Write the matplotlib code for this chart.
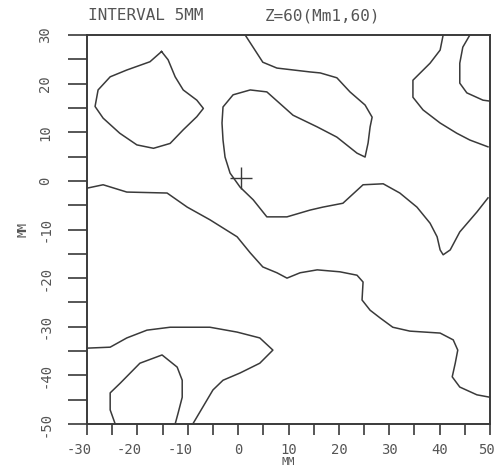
import matplotlib
matplotlib.use("Agg")
import matplotlib.pyplot as plt
import matplotlib.transforms as mtransforms
import numpy as np

# Contour lines (x, y in MM)
curve_a = [(-15.2, 26.6), (-17.5, 24.5), (-22.1, 22.8), (-25.4, 21.4), (-27.8, 18.7),
           (-28.4, 15.3), (-26.8, 12.9), (-23.5, 9.8), (-20.1, 7.4), (-16.8, 6.7),
           (-13.5, 7.7), (-10.9, 10.5), (-8.2, 13.2), (-6.9, 14.9), (-8.2, 16.6),
           (-10.9, 18.7), (-12.5, 21.4), (-13.9, 24.9), (-15.2, 26.6)]
curve_b = [(1.4, 30.0), (4.9, 24.4), (7.7, 23.2), (14.3, 22.4), (16.3, 22.2), (19.6, 21.2),
           (22.2, 18.3), (25.2, 15.6), (26.6, 13.1), (26.2, 11.1), (25.8, 7.8), (25.2, 4.9),
           (23.6, 5.7), (19.6, 9.0), (15.7, 11.1), (10.9, 13.5), (5.7, 18.3), (2.4, 18.7),
           (-1.0, 17.7), (-3.0, 15.2), (-3.2, 11.9), (-3.0, 8.4), (-2.6, 4.9), (-1.6, 1.6),
           (0.4, -1.3), (3.0, -3.9), (5.7, -7.4), (9.7, -7.4), (14.3, -6.0), (16.8, -5.4),
           (20.8, -4.6), (24.8, -0.8), (28.8, -0.6), (32.1, -2.5), (35.5, -5.4), (38.1, -8.7),
           (39.5, -11.5), (40.1, -14.2), (40.7, -15.2), (42.1, -14.2), (44.0, -10.5),
           (47.4, -6.4), (49.6, -3.5)]
curve_c = [(40.7, 30.0), (40.1, 26.9), (38.1, 24.2), (34.7, 20.7), (34.7, 17.2), (36.7, 14.6),
           (40.1, 11.9), (43.4, 9.8), (46.0, 8.4), (49.6, 7.0)]
curve_d = [(46.0, 30.0), (44.6, 27.5), (44.0, 24.2), (44.0, 20.1), (45.4, 18.1), (48.6, 16.6),
           (50.0, 16.4)]
curve_e = [(-30.0, -1.5), (-26.8, -0.8), (-22.1, -2.3), (-14.1, -2.5), (-10.1, -5.4),
           (-5.6, -8.0), (-0.2, -11.5), (2.4, -14.8), (4.9, -17.7), (7.7, -18.9), (9.7, -20.0),
           (12.3, -18.9), (15.7, -18.3), (20.2, -18.7), (23.6, -19.4), (24.8, -20.8),
           (24.6, -24.5), (26.2, -26.6), (28.2, -28.2), (30.7, -30.1), (34.1, -30.9),
           (40.1, -31.3), (42.7, -32.7), (43.6, -34.8), (43.1, -37.5), (42.5, -40.3),
           (44.0, -42.4), (47.4, -44.0), (50.0, -44.5)]
curve_f = [(-30.0, -34.4), (-25.4, -34.2), (-22.1, -32.3), (-18.1, -30.7), (-13.5, -30.1),
           (-5.6, -30.1), (-0.2, -31.1), (4.3, -32.3), (6.9, -34.8), (4.3, -37.5), (0.4, -39.5),
           (-3.0, -41.0), (-5.0, -43.0), (-7.0, -46.5), (-9.0, -50.0)]
curve_g = [(-24.4, -50.0), (-25.4, -47.1), (-25.4, -43.6), (-23.4, -41.6), (-19.5, -37.5),
           (-15.1, -35.8), (-12.1, -38.3), (-11.1, -41.0), (-11.1, -44.5), (-11.9, -47.7),
           (-12.5, -50.0)]
curves = [curve_a, curve_b, curve_c, curve_d, curve_e, curve_f, curve_g]

center_mark = (0.5, 0.5)

x_ticks = list(range(-30, 51, 5))
x_labels = [str(v) if v % 10 == 0 else "" for v in x_ticks]
y_ticks = list(range(-50, 31, 5))
y_labels = [str(v) if v % 10 == 0 else "" for v in y_ticks]

title_left = "INTERVAL 5MM"
title_right = "Z=60(Mm1,60)"
x_title = "MM"
y_title = "MM"

LINE = "#3a3a3a"
TEXT = "#555555"
FONT = "DejaVu Sans Mono"

fig = plt.figure(figsize=(4.95, 4.68), dpi=100)
ax = fig.add_axes([87 / 495, 1 - 424 / 468, 403 / 495, 389 / 468])
ax.set_xlim(-30, 50)
ax.set_ylim(-50, 30)

for c in curves:
    arr = np.array(c)
    ax.plot(arr[:, 0], arr[:, 1], color=LINE, lw=1.1, solid_joinstyle="round")

ax.plot([center_mark[0]], [center_mark[1]], marker="+", markersize=16,
        markeredgewidth=1.0, color=LINE)

for s in ax.spines.values():
    s.set_color(LINE)
    s.set_linewidth(1.4)

ax.set_xticks(x_ticks)
ax.set_xticklabels(x_labels, fontfamily=FONT, fontsize=10, color=TEXT)
ax.set_yticks(y_ticks)
ax.set_yticklabels(y_labels, fontfamily=FONT, fontsize=10, color=TEXT,
                   rotation=90, va="center")
ax.tick_params(axis="x", direction="out", length=8, width=1.2, color=LINE, pad=6)
ax.tick_params(axis="y", direction="out", length=14, width=1.2, color=LINE, pad=11)

for lab, v in zip(ax.get_xticklabels(), x_ticks):
    dx = 0
    if v < 0:
        dx = -8
    elif v == 50:
        dx = -4
    if dx:
        lab.set_transform(lab.get_transform() +
                          mtransforms.ScaledTranslation(dx / 100, 0, fig.dpi_scale_trans))

ax.set_xlabel(x_title, fontfamily=FONT, fontsize=8, color=TEXT, labelpad=0)
ax.set_ylabel(y_title, fontfamily=FONT, fontsize=9, color=TEXT, labelpad=6)

fig.text(88 / 495, 1 - 16 / 468, title_left, fontfamily=FONT, fontsize=11.5,
         color=TEXT, va="center", ha="left")
fig.text(265 / 495, 1 - 16 / 468, title_right, fontfamily=FONT, fontsize=11.5,
         color=TEXT, va="center", ha="left")

fig.savefig("out.png", dpi=100, facecolor="white")
